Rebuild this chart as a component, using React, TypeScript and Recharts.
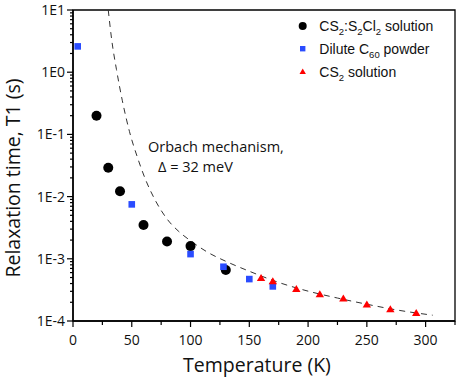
import React from 'react';
import { ComposedChart, Line, Scatter, XAxis, YAxis, ReferenceArea, Legend } from 'recharts';

// CS2:S2Cl2 solution
const solutionTemps = [20, 30, 40, 60, 80, 100, 130];
const solutionT1 = [0.2, 0.029, 0.0122, 0.0035, 0.0019, 0.0016, 0.00066];
// Dilute C60 powder
const powderTemps = [4, 50, 100, 128, 150, 170];
const powderT1 = [2.6, 0.0075, 0.00119, 0.000745, 0.000472, 0.00036];
// CS2 solution
const cs2Temps = [160, 170, 190, 210, 230, 250, 270, 292];
const cs2T1 = [0.00049, 0.000434, 0.000327, 0.000268, 0.000231, 0.000185, 0.000154, 0.000134];
// Orbach mechanism curve
const orbachTemps = [30, 33, 37, 42, 48, 55, 62, 70, 80, 90, 100, 115, 130, 150, 175, 200, 225, 250, 275, 306];
const orbachT1 = [10, 3.24, 1.1, 0.347, 0.112, 0.0417, 0.0182, 0.00871, 0.00437, 0.00275, 0.00195, 0.00126, 0.000912, 0.000631, 0.000417, 0.000302, 0.000234, 0.000186, 0.000151, 0.000124];

const xMajorTicks = [0, 50, 100, 150, 200, 250, 300];
const xMinorTicks = [25, 75, 125, 175, 225, 275, 325];
const yDecadeTicks = [1e-4, 1e-3, 1e-2, 1e-1, 1, 10];
const yDecadeLabels = ['1E-4', '1E-3', '1E-2', '1E-1', '1E0', '1E1'];
const yMinorMultipliers = [2, 3, 4, 5, 6, 7, 8, 9];

const zip = (xs: number[], ys: number[]) => xs.map((x, i) => ({ x, y: ys[i] }));
const solutionData = zip(solutionTemps, solutionT1);
const powderData = zip(powderTemps, powderT1);
const cs2Data = zip(cs2Temps, cs2T1);
const orbachData = zip(orbachTemps, orbachT1);

const xAllTicks = [...xMajorTicks, ...xMinorTicks].sort((a, b) => a - b);
const yMinorTicks: number[] = [];
yDecadeTicks.slice(0, -1).forEach((d) => yMinorMultipliers.forEach((m) => yMinorTicks.push(+(d * m).toPrecision(3))));
const yAllTicks = [...yDecadeTicks, ...yMinorTicks].sort((a, b) => a - b);

const FONT = '"Open Sans", sans-serif';
const LFONT = '"Liberation Sans", Arial, sans-serif';

const XTick = (props: any) => {
  const { x, y, payload } = props;
  const v = payload.value;
  const major = xMajorTicks.includes(v);
  return (
    <g>
      <line x1={x} x2={x} y1={y} y2={y + (major ? 6 : 4)} stroke="#000" strokeWidth={1.2} />
      {major && (
        <text x={x} y={y + 24} textAnchor="middle" fontFamily={FONT} fontSize={14} fill="#111">
          {v}
        </text>
      )}
    </g>
  );
};

const YTick = (props: any) => {
  const { x, y, payload } = props;
  const v = payload.value;
  const idx = yDecadeTicks.findIndex((d) => Math.abs(d - v) / d < 1e-6);
  const major = idx >= 0;
  return (
    <g>
      <line x1={x} x2={x - (major ? 6 : 3)} y1={y} y2={y} stroke="#000" strokeWidth={1.2} />
      {major && (
        <text x={x - 8} y={y} dy="0.36em" textAnchor="end" fontFamily={FONT} fontSize={14} fill="#111">
          {yDecadeLabels[idx]}
        </text>
      )}
    </g>
  );
};

const Circle = (p: any) => <circle cx={p.cx} cy={p.cy} r={5} fill="#000" />;
const Square = (p: any) => <rect x={p.cx - 3.3} y={p.cy - 3.3} width={6.6} height={6.6} fill="#2a4cff" />;
const Tri = (p: any) => (
  <polygon
    points={`${p.cx},${p.cy - 4} ${p.cx - 4.2},${p.cy + 3} ${p.cx + 4.2},${p.cy + 3}`}
    fill="#ff0000"
  />
);

const sub = (t: string) => (
  <tspan dy={4} fontSize={9.5}>
    {t}
  </tspan>
);

const LegendBox = () => (
  <svg width={160} height={75} style={{ display: 'block' }}>
    <circle cx={8.7} cy={14} r={4} fill="#000" />
    <rect x={6} y={34} width={5.4} height={5.4} fill="#2a4cff" />
    <polygon points="8.7,56.5 5.5,62 11.9,62" fill="#ff0000" />
    <g fontFamily={LFONT} fontSize={14} fill="#111">
      <text x={25.3} y={19}>
        CS{sub('2')}
        <tspan dy={-4}>:S</tspan>
        {sub('2')}
        <tspan dy={-4}>Cl</tspan>
        {sub('2')}
        <tspan dy={-4}> solution</tspan>
      </text>
      <text x={25.3} y={42}>
        Dilute C{sub('60')}
        <tspan dy={-4}> powder</tspan>
      </text>
      <text x={25.3} y={65}>
        CS{sub('2')}
        <tspan dy={-4}> solution</tspan>
      </text>
    </g>
  </svg>
);

export default function App() {
  return (
    <div style={{ position: 'absolute', left: 0, top: 0, width: 457, height: 379, background: '#fff' }}>
      <ComposedChart width={457} height={379} margin={{ top: 10, right: 2, bottom: 0, left: 0 }}>
        <XAxis
          type="number"
          dataKey="x"
          domain={[0, 325]}
          ticks={xAllTicks}
          interval={0}
          allowDataOverflow
          height={58}
          tickLine={false}
          tickSize={0}
          tickMargin={0}
          axisLine={{ stroke: '#000', strokeWidth: 1.5 }}
          tick={<XTick />}
        />
        <YAxis
          type="number"
          dataKey="y"
          scale="log"
          domain={[1e-4, 10]}
          ticks={yAllTicks}
          interval={0}
          allowDataOverflow
          width={73}
          tickLine={false}
          tickSize={0}
          tickMargin={0}
          axisLine={{ stroke: '#000', strokeWidth: 1.5 }}
          tick={<YTick />}
        />
        <ReferenceArea x1={0} x2={325} y1={1e-4} y2={10} fill="none" stroke="#000" strokeWidth={1.3} />
        <Line
          data={orbachData}
          dataKey="y"
          type="monotone"
          dot={false}
          stroke="#333"
          strokeWidth={1}
          strokeDasharray="6 5"
          isAnimationActive={false}
          legendType="none"
        />
        <Scatter name="CS2:S2Cl2 solution" data={solutionData} dataKey="y" shape={Circle} isAnimationActive={false} />
        <Scatter name="Dilute C60 powder" data={powderData} dataKey="y" shape={Square} isAnimationActive={false} />
        <Scatter name="CS2 solution" data={cs2Data} dataKey="y" shape={Tri} isAnimationActive={false} />
        <Legend
          layout="vertical"
          align="center"
          verticalAlign="middle"
          content={() => <LegendBox />}
          wrapperStyle={{ position: 'absolute', left: 294, top: 12, width: 160, height: 75 }}
        />
      </ComposedChart>
      <svg
        width={457}
        height={379}
        style={{ position: 'absolute', left: 0, top: 0, pointerEvents: 'none' }}
      >
        <g fontFamily={FONT} fill="#111">
          <text x={148} y={151.5} fontSize={14.5}>
            Orbach mechanism,
          </text>
          <text x={158} y={171.5} fontSize={14.5}>
            Δ = 32 meV
          </text>
          <text x={257} y={372} fontSize={19.5} textAnchor="middle">
            Temperature (K)
          </text>
          <text x={20} y={178} fontSize={19.5} textAnchor="middle" transform="rotate(-90, 20, 178)">
            Relaxation time, T1 (s)
          </text>
        </g>
      </svg>
    </div>
  );
}
